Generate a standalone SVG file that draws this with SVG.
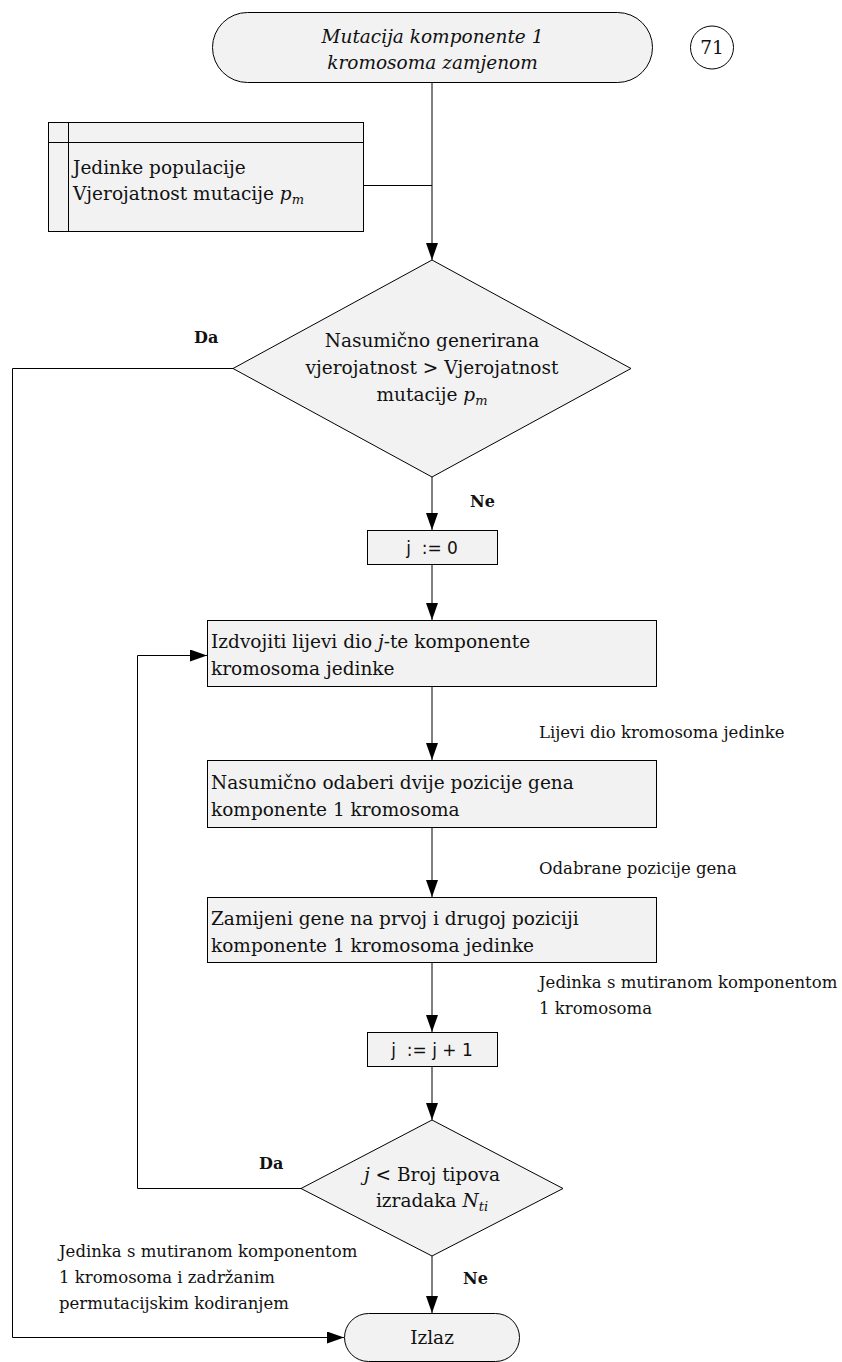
<svg xmlns="http://www.w3.org/2000/svg" width="842" height="1362" viewBox="0 0 842 1362">
<defs>
<marker id="arr" markerWidth="17" markerHeight="12" refX="17" refY="6" orient="auto" markerUnits="userSpaceOnUse"><path d="M0,0 L17,6 L0,12 z" fill="#000"/></marker>
<style>
.n{fill:#f2f2f2;stroke:#000;stroke-width:1}
.c{fill:none;stroke:#000;stroke-width:1}
.t{font-family:"DejaVu Serif","Liberation Serif",serif;font-size:18.5px;fill:#111}
.l{font-size:16.5px}
.m{text-anchor:middle}
.i{font-style:italic}
.b{font-weight:bold;font-size:16px}
.s{font-size:13px;font-style:italic}
.k{font-family:"DejaVu Sans","Liberation Sans",sans-serif;font-size:17px;white-space:pre}
</style>
</defs>
<rect width="842" height="1362" fill="#fff"/>
<g id="connectors">
<line class="c" x1="432" y1="83" x2="432" y2="260" marker-end="url(#arr)"/>
<line class="c" x1="363" y1="185.5" x2="432" y2="185.5"/>
<polyline class="c" points="233,368.5 12.5,368.5 12.5,1337.5 344,1337.5" marker-end="url(#arr)"/>
<line class="c" x1="432" y1="477" x2="432" y2="530" marker-end="url(#arr)"/>
<line class="c" x1="432" y1="564" x2="432" y2="620" marker-end="url(#arr)"/>
<line class="c" x1="432" y1="686" x2="432" y2="760" marker-end="url(#arr)"/>
<line class="c" x1="432" y1="827" x2="432" y2="897" marker-end="url(#arr)"/>
<line class="c" x1="432" y1="962" x2="432" y2="1032" marker-end="url(#arr)"/>
<line class="c" x1="432" y1="1066" x2="432" y2="1120" marker-end="url(#arr)"/>
<polyline class="c" points="301,1188.5 137.5,1188.5 137.5,655.5 207,655.5" marker-end="url(#arr)"/>
<line class="c" x1="432" y1="1256" x2="432" y2="1313" marker-end="url(#arr)"/>
<text class="t b" x="194" y="343">Da</text>
<text class="t b" x="470" y="507">Ne</text>
<text class="t l" x="539" y="738">Lijevi dio kromosoma jedinke</text>
<text class="t l" x="539" y="874">Odabrane pozicije gena</text>
<text class="t l" x="539" y="988">Jedinka s mutiranom komponentom</text>
<text class="t l" x="539" y="1014">1 kromosoma</text>
<text class="t b" x="259" y="1169">Da</text>
<text class="t b" x="463" y="1284">Ne</text>
<text class="t l" x="59" y="1257">Jedinka s mutiranom komponentom</text>
<text class="t l" x="59" y="1283">1 kromosoma i zadržanim</text>
<text class="t l" x="59" y="1309">permutacijskim kodiranjem</text>
</g>
<g id="start">
<rect class="n" x="212.5" y="12.5" width="440" height="70" rx="35"/>
<text class="t m i" x="432.5" y="43">Mutacija komponente 1</text>
<text class="t m i" x="432.5" y="69">kromosoma zamjenom</text>
</g>
<g id="page">
<circle cx="712" cy="47.5" r="21.5" fill="#fff" stroke="#000" stroke-width="1"/>
<text class="t m" x="712" y="54">71</text>
</g>
<g id="input">
<rect class="n" x="48.5" y="122.5" width="315" height="109"/>
<line x1="48.5" y1="142.5" x2="363.5" y2="142.5" stroke="#000" stroke-width="1"/>
<line x1="68.5" y1="122.5" x2="68.5" y2="231.5" stroke="#000" stroke-width="1"/>
<text class="t" x="73" y="174">Jedinke populacije</text>
<text class="t" x="73" y="200">Vjerojatnost mutacije <tspan class="i">p</tspan><tspan class="s" dy="4">m</tspan></text>
</g>
<g id="decision1">
<polygon class="n" points="432,260 631,368.5 432,477 233,368.5"/>
<text class="t m" x="432" y="347">Nasumično generirana</text>
<text class="t m" x="432" y="374">vjerojatnost &gt; Vjerojatnost</text>
<text class="t m" x="432" y="401">mutacije <tspan class="i">p</tspan><tspan class="s" dy="4">m</tspan></text>
</g>
<g id="init">
<rect class="n" x="367.5" y="530.5" width="130" height="34"/>
<text class="t m k" x="432" y="554">j  := 0</text>
</g>
<g id="step1">
<rect class="n" x="207.5" y="620.5" width="449" height="66"/>
<text class="t" x="211" y="648">Izdvojiti lijevi dio <tspan class="i">j</tspan>-te komponente</text>
<text class="t" x="211" y="675">kromosoma jedinke</text>
</g>
<g id="step2">
<rect class="n" x="207.5" y="760.5" width="449" height="67"/>
<text class="t" x="211" y="789">Nasumično odaberi dvije pozicije gena</text>
<text class="t" x="211" y="816">komponente 1 kromosoma</text>
</g>
<g id="step3">
<rect class="n" x="207.5" y="897.5" width="449" height="65"/>
<text class="t" x="211" y="925">Zamijeni gene na prvoj i drugoj poziciji</text>
<text class="t" x="211" y="952">komponente 1 kromosoma jedinke</text>
</g>
<g id="increment">
<rect class="n" x="367.5" y="1032.5" width="130" height="34"/>
<text class="t m k" x="432" y="1056">j  := j + 1</text>
</g>
<g id="decision2">
<polygon class="n" points="432,1120 563,1188.5 432,1256 301,1188.5"/>
<text class="t m" x="432" y="1181"><tspan class="i">j</tspan> &lt; Broj tipova</text>
<text class="t m" x="432" y="1207">izradaka <tspan class="i">N</tspan><tspan class="s" dy="4">ti</tspan></text>
</g>
<g id="end">
<rect class="n" x="344.5" y="1313.5" width="175" height="48" rx="24"/>
<text class="t m" x="432" y="1344">Izlaz</text>
</g>
</svg>
